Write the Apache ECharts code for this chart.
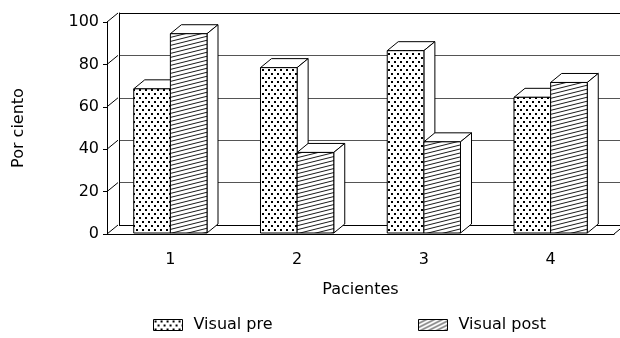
<!DOCTYPE html>
<html>
<head>
<meta charset="utf-8">
<script src="https://cdn.jsdelivr.net/npm/echarts@6/dist/echarts.min.js"></script>
<style>
html,body{margin:0;padding:0;background:#fff;}
#chart{width:620px;height:338px;}
</style>
</head>
<body>
<div id="chart"></div>
<script>
var categories = ['1', '2', '3', '4'];
var visualPre = [68, 78, 86, 64];
var visualPost = [94, 38, 43, 71];
var yTicks = [0, 20, 40, 60, 80, 100];

var FONT = 'DejaVu Sans';
var DX = 11, DY = -9;   // profundidad 3D

// trama de puntos
function dotTile() {
	var c = document.createElement('canvas');
	c.width = 6; c.height = 8;
	var g = c.getContext('2d');
	g.fillStyle = '#fff';
	g.fillRect(0, 0, 6, 8);
	g.fillStyle = '#000';
	g.fillRect(1, 1, 2, 2);
	g.fillRect(4, 5, 2, 2);
	return c;
}
// trama de rayas inclinadas
function hatchTile(w, h) {
	var c = document.createElement('canvas');
	c.width = w; c.height = h;
	var g = c.getContext('2d');
	g.fillStyle = '#fff';
	g.fillRect(0, 0, w, h);
	g.strokeStyle = '#000';
	g.lineWidth = 0.9;
	for (var k = -1; k <= 1; k++) {
		g.beginPath();
		g.moveTo(0, h + k * h);
		g.lineTo(w, 0 + k * h);
		g.stroke();
	}
	return c;
}

var dotFill = {image: dotTile(), repeat: 'repeat'};
var hatchFill = {image: hatchTile(16, 4), repeat: 'repeat'};
var hatchLegend = {image: hatchTile(8, 4), repeat: 'repeat'};

function barRender(side, fill) {
	return function (params, api) {
		var cat = api.value(0), val = api.value(1);
		var base = api.coord([cat, 0]);
		var top = api.coord([cat, val]);
		var band = api.size([1, 0])[0];
		var w = band * 0.289;
		var x0 = side === 0 ? base[0] - w : base[0];
		var x1 = x0 + w;
		var yb = base[1] - 1, yt = top[1] - 1;
		return {
			type: 'group',
			children: [
				{type: 'polygon', shape: {points: [[x0, yt], [x0 + DX, yt + DY], [x1 + DX, yt + DY], [x1, yt]]},
					style: {fill: '#fff', stroke: '#000', lineWidth: 1}},
				{type: 'polygon', shape: {points: [[x1, yt], [x1 + DX, yt + DY], [x1 + DX, yb + DY], [x1, yb]]},
					style: {fill: '#fff', stroke: '#000', lineWidth: 1}},
				{type: 'rect', shape: {x: x0, y: yt, width: w, height: yb - yt},
					style: {fill: fill, stroke: '#000', lineWidth: 1}}
			]
		};
	};
}

// diagonales de la pared lateral y del suelo
function frameRender(params, api) {
	var v = api.value(0);
	var band = api.size([1, 0])[0];
	var p = api.coord([0, v]);
	var xl = p[0] - band / 2;
	var kids = [{type: 'line', shape: {x1: xl, y1: p[1], x2: xl + DX, y2: p[1] + DY},
		style: {stroke: '#000', lineWidth: 1}}];
	if (v === 0) {
		var xr = api.coord([categories.length - 1, 0])[0] + band / 2;
		kids.push({type: 'line', shape: {x1: xr, y1: p[1], x2: xr + DX, y2: p[1] + DY},
			style: {stroke: '#000', lineWidth: 1}});
	}
	return {type: 'group', children: kids};
}

var myChart = echarts.init(document.getElementById('chart'));
var textBase = {fontFamily: FONT, fontSize: 16, color: '#000'};

var option = {
	backgroundColor: '#fff',
	animation: false,
	grid: [
		{left: 107, top: 22, width: 507, height: 212},
		{left: 119, top: 13, width: 507, height: 212}
	],
	xAxis: [
		{
			type: 'category', gridIndex: 0, data: categories,
			axisLine: {lineStyle: {color: '#000', width: 1}},
			axisTick: {length: 5, lineStyle: {color: '#000'}},
			axisLabel: Object.assign({margin: 18}, textBase),
			name: 'Pacientes', nameLocation: 'middle', nameGap: 48,
			nameTextStyle: textBase
		},
		{
			type: 'category', gridIndex: 1, data: categories,
			axisLine: {show: false}, axisTick: {show: false}, axisLabel: {show: false}
		}
	],
	yAxis: [
		{
			type: 'value', gridIndex: 0, min: 0, max: 100, interval: 20,
			axisLine: {show: true, lineStyle: {color: '#000', width: 1}},
			axisTick: {show: true, length: 4, lineStyle: {color: '#000'}},
			axisLabel: Object.assign({margin: 8}, textBase),
			splitLine: {show: false},
			name: 'Por ciento', nameLocation: 'middle', nameGap: 80,
			nameTextStyle: textBase
		},
		{
			type: 'value', gridIndex: 1, min: 0, max: 100, interval: 20,
			axisLine: {show: true, lineStyle: {color: '#000', width: 1}},
			axisTick: {show: false}, axisLabel: {show: false},
			splitLine: {show: true, lineStyle: {color: ['#000', '#555', '#555', '#555', '#555', '#000'], width: 1}}
		}
	],
	legend: [
		{
			left: 148, top: 312, icon: 'rect', itemWidth: 29, itemHeight: 11,
			textStyle: Object.assign({padding: [0, 0, 0, 6]}, textBase),
			data: [{name: 'Visual pre', itemStyle: {color: dotFill, borderColor: '#000', borderWidth: 1}}]
		},
		{
			left: 413, top: 312, icon: 'rect', itemWidth: 29, itemHeight: 11,
			textStyle: Object.assign({padding: [0, 0, 0, 6]}, textBase),
			data: [{name: 'Visual post', itemStyle: {color: hatchLegend, borderColor: '#000', borderWidth: 1}}]
		}
	],
	series: [
		{
			type: 'custom', name: 'frame', xAxisIndex: 0, yAxisIndex: 0, silent: true,
			renderItem: frameRender, data: yTicks.map(function (v) { return [v]; }), z: 1
		},
		{
			type: 'custom', name: 'Visual pre', xAxisIndex: 0, yAxisIndex: 0,
			itemStyle: {color: dotFill},
			renderItem: barRender(0, dotFill),
			data: visualPre.map(function (v, i) { return [i, v]; }), z: 2
		},
		{
			type: 'custom', name: 'Visual post', xAxisIndex: 0, yAxisIndex: 0,
			itemStyle: {color: hatchLegend},
			renderItem: barRender(1, hatchFill),
			data: visualPost.map(function (v, i) { return [i, v]; }), z: 3
		}
	]
};
myChart.setOption(option);
</script>
</body>
</html>
